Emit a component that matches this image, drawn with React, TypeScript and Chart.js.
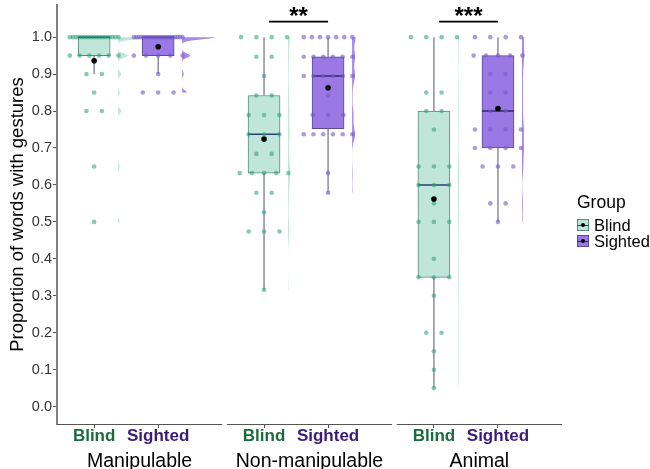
import React, { useEffect, useRef } from 'react';
import { Chart, registerables } from 'chart.js';

Chart.register(...registerables);

// ---------------- data ----------------
const panelNames = ['Manipulable', 'Non-manipulable', 'Animal'];
const groupNames = ['Blind', 'Sighted'];

// per-participant proportions
const blindManipulable = [1, 1, 1, 1, 1, 1, 1, 1, 1, 1, 1, 1, 1, 1, 1, 1, 1, 0.95, 0.95, 0.95, 0.95, 0.95, 0.95, 0.9, 0.9, 0.85, 0.8, 0.8, 0.65, 0.5];
const sightedManipulable = [1, 1, 1, 1, 1, 1, 1, 1, 1, 1, 1, 1, 1, 1, 1, 1, 1, 1, 1, 1, 1, 0.95, 0.95, 0.95, 0.95, 0.95, 0.9, 0.85, 0.85, 0.85];
const blindNonManipulable = [1, 1, 1, 1, 0.947, 0.947, 0.895, 0.842, 0.842, 0.789, 0.789, 0.789, 0.737, 0.737, 0.737, 0.684, 0.684, 0.632, 0.632, 0.632, 0.632, 0.632, 0.579, 0.579, 0.526, 0.474, 0.474, 0.474, 0.316];
const sightedNonManipulable = [1, 1, 1, 1, 1, 1, 1, 0.947, 0.947, 0.947, 0.947, 0.947, 0.947, 0.895, 0.895, 0.895, 0.895, 0.895, 0.895, 0.842, 0.789, 0.789, 0.789, 0.737, 0.737, 0.737, 0.737, 0.737, 0.737, 0.632, 0.579];
const blindAnimal = [1, 1, 1, 1, 0.85, 0.85, 0.8, 0.8, 0.75, 0.65, 0.65, 0.65, 0.6, 0.6, 0.6, 0.55, 0.5, 0.5, 0.5, 0.4, 0.35, 0.35, 0.35, 0.3, 0.2, 0.2, 0.15, 0.1, 0.05];
const sightedAnimal = [1, 1, 1, 1, 0.95, 0.95, 0.95, 0.95, 0.95, 0.9, 0.9, 0.85, 0.85, 0.8, 0.8, 0.75, 0.75, 0.75, 0.75, 0.7, 0.7, 0.7, 0.7, 0.65, 0.65, 0.65, 0.55, 0.55, 0.5];

// box statistics per panel (Manipulable, Non-manipulable, Animal)
const blindLower = [0.9, 0.316, 0.05];
const blindQ1 = [0.95, 0.632, 0.35];
const blindMedian = [1.0, 0.737, 0.6];
const blindQ3 = [1.0, 0.842, 0.8];
const blindUpper = [1.0, 1.0, 1.0];
const blindMean = [0.936, 0.724, 0.562];

const sightedLower = [0.9, 0.579, 0.5];
const sightedQ1 = [0.95, 0.752, 0.7];
const sightedMedian = [1.0, 0.895, 0.8];
const sightedQ3 = [1.0, 0.947, 0.95];
const sightedUpper = [1.0, 1.0, 1.0];
const sightedMean = [0.974, 0.863, 0.807];

const sigLabels = ['', '**', '***'];
const sigHeight = 1.042;

const yTicks = [0, 0.1, 0.2, 0.3, 0.4, 0.5, 0.6, 0.7, 0.8, 0.9, 1.0];

// ---------------- layout / style ----------------
const PANEL_W = 2.58;
const PANEL_GAP = 0.073;
const GROUP_OFFSET = 0.58;
const BOX_HALF = 0.25;
const VIOLIN_NUDGE = 0.375;
const VIOLIN_MAX_W = 0.52;
const VIOLIN_ADJUST = 0.34;
const X_MAX = 3 * PANEL_W + 2 * PANEL_GAP;

const FONT = '"Liberation Sans", Arial, Helvetica, sans-serif';

const fills = ['#bfe6d8', '#9a79e5'];
const borders = ['#5b8a7c', '#5b4b9c'];
const pointColors = ['rgba(38,160,118,0.55)', 'rgba(118,88,200,0.6)'];
const medianColors = ['#2c3d70', '#2f2868'];
const violinColors = ['rgba(165,220,200,0.7)', 'rgba(150,118,230,0.85)'];
const labelColors = ['#1c6b3c', '#3b1b78'];
const whiskerColor = '#6f6f8c';

const panelData = [
  [blindManipulable, sightedManipulable],
  [blindNonManipulable, sightedNonManipulable],
  [blindAnimal, sightedAnimal],
];
const stats = [
  { lo: blindLower, q1: blindQ1, med: blindMedian, q3: blindQ3, hi: blindUpper, mean: blindMean },
  { lo: sightedLower, q1: sightedQ1, med: sightedMedian, q3: sightedQ3, hi: sightedUpper, mean: sightedMean },
];

const panelStart = (p: number) => p * (PANEL_W + PANEL_GAP);
const groupX = (p: number, g: number) => panelStart(p) + GROUP_OFFSET + g;

// spread tied values horizontally (deterministic strip layout)
function spreadOffsets(values: number[]): number[] {
  const counts = new Map<number, number>();
  const seen = new Map<number, number>();
  values.forEach((v) => counts.set(v, (counts.get(v) || 0) + 1));
  return values.map((v) => {
    const n = counts.get(v) as number;
    const i = seen.get(v) || 0;
    seen.set(v, i + 1);
    if (n === 1) return 0;
    const half = Math.min(0.38, 0.12 * (n - 1));
    return -half + (2 * half * i) / (n - 1);
  });
}

function quantile(sorted: number[], p: number) {
  const h = (sorted.length - 1) * p;
  const lo = Math.floor(h);
  const hi = Math.min(lo + 1, sorted.length - 1);
  return sorted[lo] + (h - lo) * (sorted[hi] - sorted[lo]);
}
function bwNrd0(vals: number[]) {
  const n = vals.length;
  const mean = vals.reduce((a, b) => a + b, 0) / n;
  const sd = Math.sqrt(vals.reduce((a, b) => a + (b - mean) * (b - mean), 0) / (n - 1));
  const s = [...vals].sort((a, b) => a - b);
  const iqr = quantile(s, 0.75) - quantile(s, 0.25);
  let lo = Math.min(sd, iqr / 1.34);
  if (!(lo > 0)) lo = sd || 1;
  return 0.9 * lo * Math.pow(n, -0.2);
}
function densityAt(vals: number[], bw: number, y: number) {
  let s = 0;
  for (const v of vals) {
    const z = (y - v) / bw;
    s += Math.exp(-0.5 * z * z);
  }
  return s / (vals.length * bw * Math.sqrt(2 * Math.PI));
}

const violinPlugin = {
  id: 'halfViolins',
  beforeDatasetsDraw(chart: any) {
    const { ctx, chartArea, scales } = chart;
    const xs = scales.x;
    const ys = scales.y;
    const curves: any[] = [];
    let maxD = 0;
    panelData.forEach((pair, p) => {
      pair.forEach((vals, g) => {
        const bw = bwNrd0(vals) * VIOLIN_ADJUST;
        const mn = Math.min(...vals);
        const mx = Math.max(...vals);
        const pts: [number, number][] = [];
        const N = 400;
        for (let k = 0; k <= N; k++) {
          const yv = mn + ((mx - mn) * k) / N;
          const d = densityAt(vals, bw, yv);
          if (d > maxD) maxD = d;
          pts.push([yv, d]);
        }
        curves.push({ p, g, mn, mx, pts });
      });
    });
    ctx.save();
    ctx.beginPath();
    ctx.rect(chartArea.left, chartArea.top, chartArea.right - chartArea.left, chartArea.bottom - chartArea.top);
    ctx.clip();
    for (const c of curves) {
      const base = groupX(c.p, c.g) + VIOLIN_NUDGE;
      ctx.beginPath();
      ctx.moveTo(xs.getPixelForValue(base), ys.getPixelForValue(c.mn));
      for (const [yv, d] of c.pts) {
        ctx.lineTo(xs.getPixelForValue(base + (d / maxD) * VIOLIN_MAX_W), ys.getPixelForValue(yv));
      }
      ctx.lineTo(xs.getPixelForValue(base), ys.getPixelForValue(c.mx));
      ctx.closePath();
      ctx.fillStyle = violinColors[c.g];
      ctx.fill();
    }
    ctx.restore();
  },
};

const decorPlugin = {
  id: 'decor',
  afterDraw(chart: any) {
    const { ctx, chartArea, scales } = chart;
    const xs = scales.x;
    const ys = scales.y;
    ctx.save();
    // panel axis lines
    ctx.strokeStyle = '#555';
    ctx.lineWidth = 1.2;
    for (let p = 0; p < 3; p++) {
      const x0 = xs.getPixelForValue(panelStart(p));
      const x1 = xs.getPixelForValue(panelStart(p) + PANEL_W);
      ctx.beginPath();
      ctx.moveTo(x0, chartArea.bottom + 0.5);
      ctx.lineTo(x1, chartArea.bottom + 0.5);
      ctx.stroke();
    }
    // panel titles
    ctx.fillStyle = '#000';
    ctx.font = `19.5px ${FONT}`;
    ctx.textAlign = 'center';
    ctx.textBaseline = 'alphabetic';
    panelNames.forEach((name, p) => {
      const cx = xs.getPixelForValue(panelStart(p) + PANEL_W / 2);
      ctx.fillText(name, cx, 467);
    });
    // significance stars
    ctx.font = `bold 24px ${FONT}`;
    sigLabels.forEach((lab, p) => {
      if (!lab) return;
      const cx = (xs.getPixelForValue(groupX(p, 0) + 0.08) + xs.getPixelForValue(groupX(p, 1))) / 2;
      ctx.fillText(lab, cx, ys.getPixelForValue(sigHeight) + 2);
    });
    // legend
    ctx.textAlign = 'left';
    ctx.textBaseline = 'middle';
    ctx.font = `17.5px ${FONT}`;
    ctx.fillText('Group', 577, 203);
    ctx.font = `16.5px ${FONT}`;
    groupNames.forEach((name, g) => {
      const cy = 225 + g * 16;
      ctx.fillStyle = fills[g];
      ctx.fillRect(577, cy - 6, 12, 12);
      ctx.strokeStyle = borders[g];
      ctx.lineWidth = 1;
      ctx.strokeRect(577.5, cy - 5.5, 11, 11);
      ctx.strokeStyle = medianColors[g];
      ctx.beginPath();
      ctx.moveTo(577.5, cy + 0.5);
      ctx.lineTo(588.5, cy + 0.5);
      ctx.stroke();
      ctx.fillStyle = '#000';
      ctx.beginPath();
      ctx.arc(583, cy, 2, 0, Math.PI * 2);
      ctx.fill();
      ctx.fillText(name, 594, cy + 1);
    });
    ctx.restore();
  },
};

function buildDatasets() {
  const ds: any[] = [];
  // jittered points
  for (let g = 0; g < 2; g++) {
    const data: any[] = [];
    panelData.forEach((pair, p) => {
      const vals = pair[g];
      const offs = spreadOffsets(vals);
      vals.forEach((v, i) => data.push({ x: groupX(p, g) + offs[i], y: v }));
    });
    ds.push({
      type: 'scatter',
      data,
      pointRadius: 2.3,
      pointBackgroundColor: pointColors[g],
      pointBorderWidth: 0,
      order: 2,
    });
  }
  // boxes
  const boxData: any[] = [];
  const boxFill: string[] = [];
  const boxBorder: string[] = [];
  for (let p = 0; p < 3; p++) {
    for (let g = 0; g < 2; g++) {
      boxData.push({ x: groupX(p, g), y: [stats[g].q1[p], stats[g].q3[p]] });
      boxFill.push(fills[g]);
      boxBorder.push(borders[g]);
    }
  }
  ds.push({
    type: 'bar',
    data: boxData,
    backgroundColor: boxFill,
    borderColor: boxBorder,
    borderWidth: 1,
    borderSkipped: false,
    barThickness: 32,
    grouped: false,
    order: 3,
  });
  // whiskers & medians
  for (let p = 0; p < 3; p++) {
    for (let g = 0; g < 2; g++) {
      const x = groupX(p, g);
      const st = stats[g];
      const seg = (a: number, b: number) => ({
        type: 'line',
        data: [{ x, y: a }, { x, y: b }],
        borderColor: whiskerColor,
        borderWidth: 1.2,
        pointRadius: 0,
        fill: false,
        order: 4,
      });
      if (st.hi[p] > st.q3[p]) ds.push(seg(st.q3[p], st.hi[p]));
      if (st.lo[p] < st.q1[p]) ds.push(seg(st.lo[p], st.q1[p]));
      ds.push({
        type: 'line',
        data: [{ x: x - BOX_HALF, y: st.med[p] }, { x: x + BOX_HALF, y: st.med[p] }],
        borderColor: medianColors[g],
        borderWidth: 1.6,
        pointRadius: 0,
        fill: false,
        order: 2.5,
      });
    }
  }
  // means
  const meanData: any[] = [];
  for (let p = 0; p < 3; p++) for (let g = 0; g < 2; g++) meanData.push({ x: groupX(p, g), y: stats[g].mean[p] });
  ds.push({
    type: 'scatter',
    data: meanData,
    pointRadius: 2.8,
    pointBackgroundColor: '#000',
    pointBorderWidth: 0,
    order: 0,
  });
  // significance bars
  sigLabels.forEach((lab, p) => {
    if (!lab) return;
    ds.push({
      type: 'line',
      data: [{ x: groupX(p, 0) + 0.08, y: sigHeight }, { x: groupX(p, 1), y: sigHeight }],
      borderColor: '#000',
      borderWidth: 1.6,
      pointRadius: 0,
      fill: false,
      order: 0,
    });
  });
  return ds;
}

const xTickValues: number[] = [];
for (let p = 0; p < 3; p++) for (let g = 0; g < 2; g++) xTickValues.push(groupX(p, g));

export default function App() {
  const ref = useRef<HTMLCanvasElement>(null);
  useEffect(() => {
    Chart.defaults.font.family = FONT;
    const chart = new Chart(ref.current as HTMLCanvasElement, {
      type: 'scatter',
      data: { datasets: buildDatasets() },
      options: {
        responsive: false,
        animation: false,
        events: [],
        layout: { padding: { top: 5, right: 88, left: 0, bottom: 0 } },
        plugins: { legend: { display: false }, tooltip: { enabled: false } },
        scales: {
          x: {
            type: 'linear',
            min: 0,
            max: X_MAX,
            offset: false,
            afterBuildTicks: (s: any) => {
              s.ticks = xTickValues.map((v) => ({ value: v }));
            },
            afterFit: (s: any) => {
              s.height = 45;
              s.paddingLeft = 0;
              s.paddingRight = 0;
              s.paddingTop = 0;
              s.paddingBottom = 0;
            },
            ticks: {
              callback: (_v: any, i: number) => groupNames[i % 2],
              color: (c: any) => labelColors[c.index % 2],
              font: { family: FONT, size: 17, weight: 'bold' },
              autoSkip: false,
              maxRotation: 0,
              padding: -2,
            },
            grid: { offset: false, drawOnChartArea: false, drawTicks: true, tickLength: 4, color: '#555' },
            border: { display: false },
          },
          y: {
            type: 'linear',
            min: -0.047,
            max: 1.087,
            afterBuildTicks: (s: any) => {
              s.ticks = yTicks.map((v) => ({ value: v }));
            },
            afterFit: (s: any) => {
              s.width = 57;
              s.paddingLeft = 0;
              s.paddingRight = 0;
              s.paddingTop = 0;
              s.paddingBottom = 0;
            },
            ticks: {
              callback: (v: any) => Number(v).toFixed(1),
              color: '#333',
              font: { family: FONT, size: 14.5 },
              padding: 1,
            },
            grid: { drawOnChartArea: false, drawTicks: true, tickLength: 4, color: '#555' },
            border: { display: true, color: '#7f7f7f', width: 2 },
            title: {
              display: true,
              text: 'Proportion of words with gestures',
              color: '#000',
              font: { family: FONT, size: 18.5 },
              padding: { top: 7, bottom: 0 },
            },
          },
        },
      },
      plugins: [violinPlugin, decorPlugin],
    } as any);
    return () => chart.destroy();
  }, []);
  return (
    <div style={{ position: 'fixed', left: 0, top: 0, width: 650, height: 469, background: '#fff' }}>
      <canvas ref={ref} width={650} height={469} style={{ display: 'block', width: 650, height: 469 }} />
    </div>
  );
}
